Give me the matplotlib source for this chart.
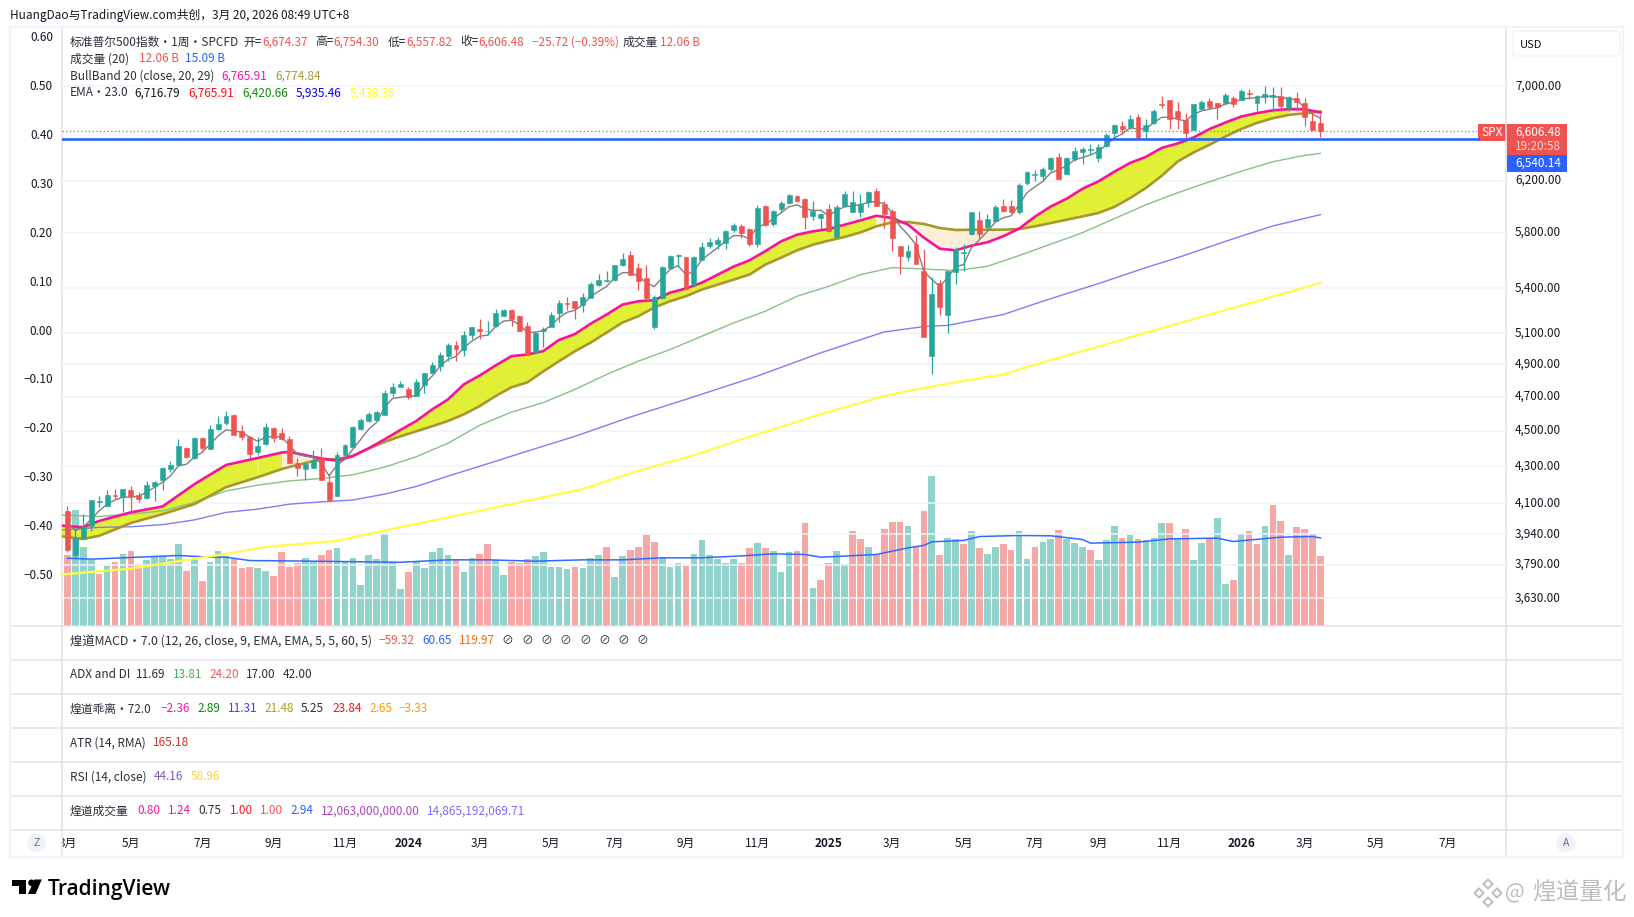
import numpy as np
import matplotlib
matplotlib.use('Agg')
import matplotlib.pyplot as plt
import matplotlib.transforms as mtransforms
from matplotlib.lines import Line2D
from matplotlib.patches import Rectangle, Circle, Polygon, FancyBboxPatch
from matplotlib.ticker import NullLocator

plt.rcParams['font.family'] = ['Noto Sans CJK SC', 'DejaVu Sans']

# weekly SPX candles
opens = [4059,3837,3921,3982,4105,4085,4143,4132,4170,4143,4127,4190,4223,4283,4305,4399,4344,4456,4394,4508,
         4542,4589,4496,4462,4377,4422,4513,4485,4450,4316,4283,4288,4344,4212,4137,4360,4405,4508,4554,4560,
         4589,4720,4756,4744,4702,4769,4848,4886,4949,5025,4987,5090,5129,5110,5149,5215,5255,5209,5149,4980,
         5110,5136,5229,5303,5316,5289,5337,5426,5454,5461,5567,5639,5546,5475,5142,5337,5546,5632,5625,5433,
         5603,5704,5719,5726,5822,5852,5830,5719,6003,5867,5980,6026,6081,6058,5927,5912,5980,5770,6003,5958,
         5958,6034,6120,6019,5965,5704,5625,5719,5525,4949,5440,5222,5518,5653,5793,5897,5845,5890,6003,6003,
         5958,6183,6247,6239,6295,6392,6255,6376,6433,6450,6384,6483,6591,6651,6642,6727,6608,6676,6841,6876,
         6780,6702,6617,6797,6867,6850,6850,6893,6876,6937,6850,6902,6902,6911,6806,6893,6850,6693,6674.37]
highs = [4085,3966,4043,4116,4137,4170,4175,4175,4190,4159,4217,4217,4294,4327,4450,4405,4462,4462,4531,4583,
         4612,4595,4531,4467,4462,4542,4519,4513,4467,4344,4321,4388,4399,4256,4377,4422,4525,4571,4606,4612,
         4738,4781,4793,4756,4805,4842,4911,4974,5032,5051,5110,5142,5189,5182,5262,5262,5262,5222,5169,5116,
         5142,5242,5323,5344,5316,5371,5447,5503,5525,5567,5653,5668,5582,5567,5357,5560,5639,5646,5625,5632,
         5733,5763,5770,5822,5875,5867,5837,6011,6011,5973,6042,6097,6089,6066,6042,5950,6019,6011,6120,6120,
         6097,6120,6144,6042,5980,5704,5711,5785,5682,5482,5461,5525,5697,5719,5958,5965,5942,6011,6058,6050,
         6183,6279,6287,6311,6392,6425,6392,6474,6474,6499,6499,6591,6667,6693,6745,6753,6710,6797,6911,6876,
         6858,6762,6841,6876,6893,6850,6937,6911,6973,6973,6920,7000,6991,6991,6911,6946,6893,6771,6754.30]
lows = [3852,3817,3916,3956,4079,4085,4121,4053,4053,4105,4121,4111,4170,4267,4299,4344,4338,4388,4394,4502,
        4531,4473,4445,4344,4360,4416,4433,4445,4316,4245,4223,4288,4223,4111,4137,4355,4399,4502,4548,4554,
        4589,4702,4756,4684,4702,4720,4848,4855,4917,4923,4949,5064,5064,5090,5142,5209,5149,5110,4961,4980,
        5012,5136,5175,5255,5189,5242,5337,5419,5447,5454,5560,5496,5392,5310,5123,5330,5546,5553,5399,5412,
        5603,5690,5682,5682,5807,5763,5704,5697,5852,5852,5958,6019,6034,5830,5897,5830,5807,5770,5996,5958,
        5920,5996,6003,5837,5668,5503,5596,5574,5071,4836,5222,5103,5433,5525,5785,5763,5830,5882,5958,5950,
        5942,6167,6199,6199,6279,6207,6255,6360,6335,6417,6352,6474,6541,6583,6625,6541,6549,6667,6806,6625,
        6625,6516,6617,6788,6797,6710,6841,6815,6876,6885,6780,6850,6771,6780,6780,6788,6651,6617,6557.82]
closes = [3861,3921,3976,4116,4111,4143,4137,4175,4137,4121,4196,4212,4288,4305,4411,4349,4456,4399,4508,4536,
          4583,4473,4462,4366,4411,4519,4456,4450,4316,4288,4310,4332,4223,4116,4360,4416,4519,4560,4595,4606,
          4720,4756,4775,4696,4787,4842,4892,4961,5025,4999,5090,5136,5116,5116,5235,5255,5195,5116,4961,5103,
          5129,5222,5303,5296,5269,5344,5433,5461,5461,5567,5610,5496,5454,5337,5344,5553,5632,5639,5399,5625,
          5697,5733,5748,5815,5860,5800,5719,5988,5860,5965,6026,6089,6042,5920,5965,5942,5815,5996,6097,6034,
          6019,6112,6003,5942,5763,5632,5668,5574,5071,5364,5276,5525,5682,5661,5958,5793,5905,5996,5965,5958,
          6167,6271,6255,6295,6384,6215,6384,6441,6458,6458,6474,6574,6659,6625,6710,6541,6659,6780,6832,6710,
          6719,6591,6841,6858,6815,6815,6920,6841,6955,6929,6911,6929,6920,6823,6902,6858,6727,6617,6606.48]

# volume in billions, colour as seen on each bar
volumes = [12.07,19.83,13.62,11.21,8.91,10.34,11.03,12.36,12.76,10.63,11.21,11.90,11.90,11.44,13.97,9.48,11.21,7.59,11.03,12.93,
           11.90,11.49,10.0,10.17,9.83,9.48,8.62,12.59,10.17,10.75,11.67,10.92,12.07,13.10,13.28,10.92,11.67,6.90,12.07,11.55,
           16.03,10.92,6.21,9.14,10.92,10.0,12.59,13.28,12.07,11.55,9.31,11.67,12.41,13.97,11.21,8.79,11.03,10.69,11.55,11.90,
           12.59,10.17,10.17,9.66,10.17,10.0,11.67,12.24,13.62,8.28,11.90,13.10,13.45,15.52,14.48,11.67,10.17,10.86,10.34,12.41,
           14.66,12.07,11.55,10.69,11.38,10.86,13.28,14.31,13.28,12.93,9.31,12.59,12.76,17.59,6.55,7.93,10.69,12.93,10.52,16.21,
           15.0,13.62,12.24,16.72,17.93,17.76,17.24,13.79,19.66,25.69,12.24,15.17,15.0,13.97,16.21,13.28,12.41,13.62,13.97,13.10,
           16.21,11.55,13.62,14.48,14.83,16.55,14.83,14.31,13.62,13.10,11.21,14.66,17.24,15.17,15.52,15.0,14.66,15.17,17.59,17.59,
           14.83,16.72,11.21,14.31,15.17,18.62,7.24,7.76,15.86,16.21,13.97,17.24,20.86,18.10,12.24,16.90,16.72,15.86,12.06]
volume_dirs = ("RGGGRGRGRRGGGGGRGRGGGRRRGGRRRRGGRRGGGGGGGGGRGGGGGRGGRRGGRRRGGGGGRGGGRGGRRRRGGGRG"
               "GGGGGRRGRGGGRRGRRGGRRGRRRRGRRGRGGRGRGGRRGGRGGRGGGRGGGRGRGGGRGRGGRGGRGRRGRRGRRRR")

vol_ma_idx = [0,3,11,14,18,20,23,31,42,48,53,59,65,70,75,80,85,89,93,95,97,102,106,108,109,113,115,120,124,128,129,135,139,145,147,153,157,158]
vol_ma = [11.6,11.44,11.9,12.07,11.78,11.78,11.2,11.09,10.9,11.32,11.32,11.09,11.32,11.32,11.67,11.67,12.0,12.36,12.24,11.78,
          11.9,12.24,13.39,13.8,14.43,14.66,15.34,15.52,15.46,14.83,14.2,14.37,14.94,15.06,14.48,15.23,15.34,15.09]

ema_fast = [4002,3958,3976,4017,4060,4095,4117,4132,4132,4137,4159,4185,4212,4247,4301,4310,4349,4377,4422,4469,
            4504,4498,4490,4462,4439,4462,4467,4463,4416,4366,4355,4349,4316,4247,4305,4338,4394,4450,4508,4548,
            4636,4690,4696,4704,4704,4775,4826,4888,4930,4949,5006,5047,5079,5086,5142,5178,5184,5155,5103,5105,
            5116,5149,5202,5237,5251,5289,5346,5380,5414,5475,5510,5510,5484,5440,5412,5475,5532,5560,5496,5520,
            5603,5646,5690,5736,5778,5778,5755,5847,5860,5905,5950,5996,6011,5980,5968,5968,5927,5968,5996,6003,
            6013,6029,6037,6019,5950,5847,5785,5711,5520,5461,5414,5475,5553,5567,5690,5748,5809,5878,5912,5927,
            6011,6105,6151,6194,6263,6287,6319,6368,6386,6408,6436,6491,6549,6583,6634,6625,6625,6679,6725,6725,
            6708,6693,6751,6780,6795,6809,6839,6854,6882,6891,6896,6905,6911,6896,6887,6876,6809,6751,6716.79]

band_idx = [-1,0,2,4,8,12,16,20,24,27,28,32,34,36,38,40,42,44,46,48,50,52,54,56,58,60,62,64,66,68,70,72,74,76,78,80,
            82,84,86,88,90,92,94,96,98,100,102,104,106,108,110,112,114,116,118,120,122,124,126,128,130,132,134,136,
            138,140,142,144,146,148,150,152,154,156,158]
band_upper = [3985,3981,3976,4008,4052,4083,4201,4306,4345,4375,4379,4342,4329,4355,4399,4450,4504,4556,4624,4684,4775,4830,4892,4951,4961,4983,
              5055,5093,5162,5222,5289,5312,5319,5371,5399,5440,5496,5553,5598,5664,5736,5785,5810,5827,5860,5892,5927,5910,5860,5763,5682,5670,
              5704,5729,5773,5830,5920,5998,6058,6136,6194,6271,6343,6392,6466,6503,6553,6624,6679,6731,6761,6785,6795,6795,6765.91]
band_lower = [3931,3926,3916,3932,3997,4043,4095,4185,4239,4283,4295,4338,4338,4357,4398,4435,4467,4496,4525,4556,4595,4644,4704,4757,4787,4855,
              4919,4982,5038,5103,5169,5211,5269,5312,5346,5392,5426,5461,5496,5567,5617,5670,5711,5741,5768,5802,5847,5877,5880,5865,5835,5820,
              5822,5822,5822,5827,5847,5872,5897,5922,5948,5994,6063,6142,6239,6354,6428,6491,6560,6624,6676,6717,6745,6759,6774.84]
# stretches where the band is drawn pale instead of yellow
pale_spans = [(27, 38), (104, 120), (154, 158)]

ema_green_idx = [-1,4,8,12,16,20,24,28,32,36,40,44,48,52,56,60,64,68,72,76,80,84,88,92,96,100,104,108,112,116,120,124,128,132,136,140,144,148,152,156,158]
ema_green = [4038,4031,4043,4060,4104,4165,4196,4219,4232,4252,4294,4352,4428,4531,4608,4664,4744,4836,4919,4993,5079,5166,5244,5346,5414,5496,
             5546,5536,5525,5555,5632,5715,5800,5905,6011,6105,6191,6275,6352,6404,6420.66]
ema_blue_idx = [-1,4,8,12,16,20,24,28,32,36,40,44,48,52,56,60,64,71,78,87,95,103,108,111,118,123,126,130,136,140,147,152,158]
ema_blue = [3961,3975,3978,3989,4013,4052,4069,4095,4107,4117,4148,4189,4245,4299,4355,4411,4467,4579,4684,4826,4972,5107,5142,5150,5222,5312,
            5364,5433,5546,5617,5755,5850,5935.46]
ema_yellow_idx = [-1,8,20,25,34,42,53,65,72,79,85,95,103,107,113,118,123,130,140,150,158]
ema_yellow = [3741,3770,3842,3876,3907,3976,4069,4175,4274,4360,4450,4595,4704,4744,4796,4836,4911,5012,5162,5312,5438.36]

last_close = 6606.48
level_line = 6540.14

price_ticks = [7000,6200,5800,5400,5100,4900,4700,4500,4300,4100,3940,3790,3630]
pct_ticks = [0.60,0.50,0.40,0.30,0.20,0.10,0.00,-0.10,-0.20,-0.30,-0.40,-0.50]
time_idx = [0,8,17,26,35,43,52,61,69,78,87,96,104,113,122,130,139,148,156,165,174]
time_labels = ['3月','5月','7月','9月','11月','2024','3月','5月','7月','9月','11月','2025','3月','5月','7月','9月','11月','2026','3月','5月','7月']

W, H = 1634, 917
UP, DOWN = '#26A69A', '#EF5350'
TXT = '#131722'
BORDER = '#E0E3EB'
GRID = '#F0F3FA'
FS = 8.5

fig = plt.figure(figsize=(W/100, H/100), dpi=100, facecolor='white')
px = mtransforms.Affine2D().scale(1.0/W, -1.0/H).translate(0, 1) + fig.transFigure
nudge = mtransforms.ScaledTranslation(0, 1.3/72, fig.dpi_scale_trans)


def box(x0, y0, x1, y1):
    return [x0/W, 1-y1/H, (x1-x0)/W, (y1-y0)/H]


def row(y, runs, size=FS):
    for x, s, c in runs:
        fig.text(x, y, s, color=c, fontsize=size, va='center', ha='left', transform=px)


ax_vol = fig.add_axes(box(62, 27, 1506, 625.5))
ax = ax_vol.twinx()
ax_pct = ax_vol.twinx()
ax.set_zorder(ax_vol.get_zorder()+2)
ax_pct.set_zorder(ax_vol.get_zorder()+1)
ax.patch.set_visible(False)

xs = np.arange(len(closes))
opens, highs, lows, closes = map(np.array, (opens, highs, lows, closes))

# volume
vol_colors = [UP if d == 'G' else DOWN for d in volume_dirs]
ax_vol.bar(xs, volumes, width=0.84, color=vol_colors, alpha=0.5, linewidth=0, zorder=2)
ax_vol.plot(vol_ma_idx, vol_ma, color='#2F6BFF', linewidth=1.1, zorder=3)
ax_vol.set_ylim(0, 598.5/5.8)

# price pane
ax.set_yscale('log')
ax.set_ylim(3505, 7550)
ax.set_xlim(-0.68, 181.4)
ax.set_xticks(time_idx)
ax.tick_params(axis='x', length=0, labelbottom=False)
ax.xaxis.grid(True, color=GRID, linewidth=1.1, zorder=0)
ax.set_yticks(price_ticks)
ax.set_yticklabels(['{:,.2f}'.format(p) for p in price_ticks], fontsize=FS, color=TXT)
ax.yaxis.set_minor_locator(NullLocator())
ax.yaxis.tick_right()
ax.tick_params(axis='y', which='both', length=0, pad=6.5)
ax.yaxis.grid(True, color=GRID, linewidth=1.1, zorder=0)
ax.set_axisbelow(True)

ax_pct.set_ylim(0.6-(625.5-38)/489.0, 0.6+(38-27)/489.0)
ax_pct.yaxis.tick_left()
ax_pct.set_yticks(pct_ticks)
ax_pct.set_yticklabels([('{:.2f}'.format(v)).replace('-', '−') for v in pct_ticks], fontsize=FS, color=TXT)
ax_pct.tick_params(axis='y', length=0, pad=6.5)

for lab in ax.get_yticklabels() + ax_pct.get_yticklabels():
    lab.set_transform(lab.get_transform() + nudge)

ax_vol.set_yticks([])
ax_vol.tick_params(axis='x', length=0, labelbottom=False)
for a in (ax, ax_vol, ax_pct):
    for s in a.spines.values():
        s.set_visible(False)

# bull band fill, yellow with pale stretches
bi = np.array(band_idx)
bu = np.array(band_upper)
bl = np.array(band_lower)
pale = np.zeros(len(bi), dtype=bool)
for a, b in pale_spans:
    pale |= (bi >= a) & (bi <= b)
yellow = ~pale
ax.fill_between(bi, bu, bl, where=yellow, color='#E1EF36', linewidth=0, zorder=2)
ax.fill_between(bi, bu, bl, where=pale, color='#FCEFD9', linewidth=0, zorder=2)
# close the one-step gaps where the colour changes
for k in np.where(pale[1:] != pale[:-1])[0]:
    col = '#E1EF36' if bi[k] + bi[k+1] < 55 or bi[k] in (120, 118, 152) else '#FCEFD9'
    ax.fill_between(bi[k:k+2], bu[k:k+2], bl[k:k+2], color=col, linewidth=0, zorder=2)

ax.plot(ema_yellow_idx, ema_yellow, color='#FFFB50', linewidth=1.7, zorder=3)
ax.plot(ema_blue_idx, ema_blue, color='#7E7EF5', linewidth=1.0, zorder=3)
ax.plot(ema_green_idx, ema_green, color='#85C285', linewidth=1.0, zorder=3)
ax.plot(bi, bl, color='#A8982C', linewidth=1.9, zorder=3)
ax.plot(bi, bu, color='#F8139F', linewidth=1.9, zorder=3)
ax.plot(xs, ema_fast, color='#7F7F7F', linewidth=1.0, zorder=3)

# candles
colors = [UP if c >= o else DOWN for o, c in zip(opens, closes)]
ax.vlines(xs, lows, highs, colors=colors, linewidth=0.9, zorder=4)
ax.bar(xs, np.abs(closes-opens), bottom=np.minimum(opens, closes), width=0.62,
       color=colors, edgecolor=colors, linewidth=0.4, zorder=5)

# price lines
ax.axhline(last_close, color=DOWN, linewidth=0.9, linestyle=(0, (1, 2)), zorder=4)
ax.plot([-0.68, (1478-67.4)/7.93], [level_line, level_line], color='#2962FF', linewidth=1.9, zorder=6)

# time strip
ax_time = fig.add_axes(box(62, 829.5, 1506, 857), sharex=ax)
ax_time.patch.set_visible(False)
ax_time.axis('off')
for i, lab in zip(time_idx, time_labels):
    bold = lab.startswith('20')
    ax_time.text(i, 0.5, lab, ha='center', va='center', fontsize=FS, color=TXT, clip_on=True,
                 fontweight='bold' if bold else 'normal')

# pane frame
for y in [625.5, 659.5, 693.5, 727.5, 761.5, 795.5, 829.5]:
    fig.add_artist(Line2D([10, 1623], [y, y], color=BORDER, linewidth=1.1, transform=px))
for x in [62, 1506]:
    fig.add_artist(Line2D([x, x], [27, 857], color=BORDER, linewidth=1.1, transform=px))
for xx, yy in [([10, 1623], [27, 27]), ([10, 1623], [857, 857]), ([10, 10], [27, 857]), ([1623, 1623], [27, 857])]:
    fig.add_artist(Line2D(xx, yy, color=GRID, linewidth=1.6, transform=px))

# price labels on the right
fig.add_artist(Rectangle((1478, 124), 29, 16.7, color=DOWN, linewidth=0, transform=px))
fig.add_artist(Rectangle((1507, 124), 60, 31, color=DOWN, linewidth=0, transform=px))
fig.add_artist(Rectangle((1507, 155), 60, 16.7, color='#2962FF', linewidth=0, transform=px))
row(132, [(1481.5, 'SPX', 'white'), (1515, '6,606.48', 'white')])
row(146, [(1515, '19:20:58', '#FBD3D2')])
row(163.5, [(1515, '6,540.14', 'white')])
fig.add_artist(FancyBboxPatch((1513, 31), 107, 25, boxstyle='round,pad=0,rounding_size=3', facecolor='white',
                              edgecolor=GRID, linewidth=1.0, transform=px))
row(45, [(1520, 'USD', TXT)], size=8.0)

# top legends
GREY = '#2A2E39'
PINK = '#F8139F'
row(15, [(10, 'HuangDao与TradingView.com共创，3月 20, 2026 08:49 UTC+8', TXT)])
row(42, [(70, '标准普尔500指数・1周・SPCFD', GREY),
         (243, '开=', GREY), (262, '6,674.37', DOWN), (315, '高=', GREY), (333, '6,754.30', DOWN),
         (388, '低=', GREY), (406, '6,557.82', DOWN), (460, '收=', GREY), (478, '6,606.48', DOWN),
         (532, '−25.72 (−0.39%)', DOWN), (623, '成交量', GREY), (660, '12.06 B', DOWN)])
row(59, [(70, '成交量 (20)', GREY), (139, '12.06 B', DOWN), (185, '15.09 B', '#2962FF')])
row(76, [(70, 'BullBand 20 (close, 20, 29)', GREY), (221, '6,765.91', PINK), (275, '6,774.84', '#A8982C')])
row(93, [(70, 'EMA・23.0', GREY), (134, '6,716.79', '#131722'), (188, '6,765.91', '#FF1010'),
         (242, '6,420.66', '#0A8A0A'), (296, '5,935.46', '#0000FF'), (350, '5,438.36', '#FFFF00')])

# lower pane legends
row(641, [(70, '煌道MACD・7.0 (12, 26, close, 9, EMA, EMA, 5, 5, 60, 5)', GREY)], size=8.85)
row(641, [(379, '−59.32', DOWN), (422, '60.65', '#2962FF'), (459, '119.97', '#FF6D00')])
for x in [507.6, 527, 546, 565.6, 585, 604, 623, 642]:
    fig.text(x, 641, '⊘', color=GREY, fontsize=FS, ha='center', va='center', transform=px)
row(675, [(70, 'ADX and DI', GREY), (136, '11.69', GREY), (173, '13.81', '#4CAF50'), (209, '24.20', '#FF5252'),
          (246, '17.00', GREY), (283, '42.00', GREY)])
row(709, [(70, '煌道乖离・72.0', GREY), (161, '−2.36', PINK), (197, '2.89', '#0A8A0A'), (228, '11.31', '#3D3DF5'),
          (264, '21.48', '#A8A01C'), (301, '5.25', GREY), (332, '23.84', '#FF1010'), (369, '2.65', '#FF9800'),
          (399, '−3.33', '#FF9800')])
row(743, [(70, 'ATR (14, RMA)', GREY), (153, '165.18', '#D32F2F')])
row(777, [(70, 'RSI (14, close)', GREY), (154, '44.16', '#7E57C2'), (191, '58.96', '#FDD835')])
row(811, [(70, '煌道成交量', GREY), (137, '0.80', PINK), (168, '1.24', PINK), (198, '0.75', GREY), (229.5, '1.00', '#FF1010'),
          (260, '1.00', '#FF5252'), (290, '2.94', '#2962FF'), (320.5, '12,063,000,000.00', '#AB47BC'),
          (427, '14,865,192,069.71', '#7C6CF0')])

# corner buttons
for cx, s in [(36.5, 'Z'), (1565.7, 'A')]:
    fig.add_artist(Circle((cx, 843), 9.5, color=GRID, linewidth=0, transform=px))
    fig.text(cx, 843.5, s, color='#6A6D78', fontsize=7.5, ha='center', va='center', transform=px)

# TradingView logo
fig.add_artist(Polygon([(12, 879.5), (26.5, 879.5), (26.5, 894), (19.5, 894), (19.5, 886), (12, 886)], color='black', linewidth=0, transform=px))
fig.add_artist(Circle((31.5, 882.8), 3.3, color='black', linewidth=0, transform=px))
fig.add_artist(Polygon([(34.5, 879.5), (41.8, 879.5), (35.5, 894), (28, 894)], color='black', linewidth=0, transform=px))
fig.text(48, 889, 'TradingView', color='black', fontsize=15, family='Open Sans', fontweight='semibold',
         va='center', ha='left', transform=px)

# watermark
WM = '#BDBDBD'
for dx, dy, r in [(0, -9, 4.5), (-9, 0, 4.5), (9, 0, 4.5), (0, 9, 4.5)]:
    cx, cy = 1488+dx, 893+dy
    fig.add_artist(Polygon([(cx-r, cy), (cx, cy-r), (cx+r, cy), (cx, cy+r)], fill=False, edgecolor=WM, linewidth=1.4, transform=px))
fig.text(1505, 892, '@', color=WM, fontsize=15, va='center', ha='left', transform=px)
fig.text(1532, 893, '煌道量化', color=WM, fontsize=17, va='center', ha='left', transform=px)

fig.savefig('out.png', dpi=100)
